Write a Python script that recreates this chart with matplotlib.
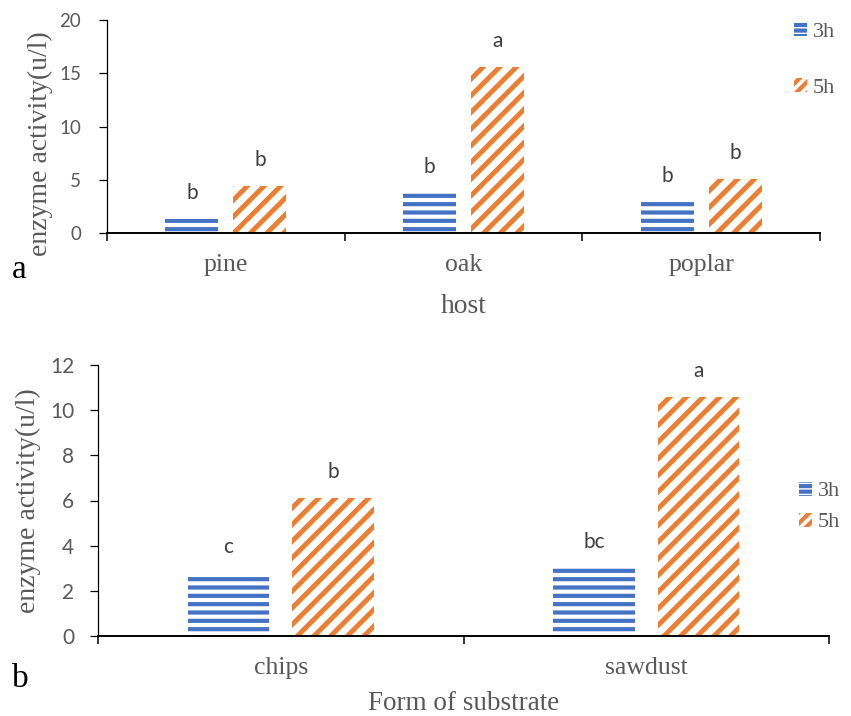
import matplotlib
matplotlib.use("Agg")
import matplotlib.pyplot as plt
from matplotlib.patches import Patch
import numpy as np

# data
hosts = ["pine", "oak", "poplar"]
host_3h = [1.3, 3.8, 2.9]
host_5h = [4.4, 15.6, 5.1]
host_sig_3h = ["b", "b", "b"]
host_sig_5h = ["b", "a", "b"]

forms = ["chips", "sawdust"]
form_3h = [2.8, 3.0]
form_5h = [6.1, 10.6]
form_sig_3h = ["c", "bc"]
form_sig_5h = ["b", "a"]

series_names = ["3h", "5h"]

GREY = "#595959"
BLUE = "#4472C4"
ORANGE = "#ED7D31"
SERIF = "Liberation Serif"
SANS = "Lato"

W, H = 851, 716
fig = plt.figure(figsize=(W / 100, H / 100), dpi=100)


def px_axes(left, top, right, bottom):
    return fig.add_axes([left / W, 1 - bottom / H, (right - left) / W, (bottom - top) / H])


def set_hlw(patches, lw):
    for p in patches:
        if hasattr(p, "set_hatch_linewidth"):
            p.set_hatch_linewidth(lw)


def draw_panel(ax, cats, v3, v5, s3, s5, ymax, ystep, tick_fs, tick_pad):
    x = np.arange(len(cats))
    b3 = ax.bar(x - 0.143, v3, 0.223, facecolor="white", edgecolor=BLUE,
                linewidth=0, hatch="--")
    b5 = ax.bar(x + 0.143, v5, 0.223, facecolor="white", edgecolor=ORANGE,
                linewidth=0, hatch="//")
    set_hlw(b3, 3.0)
    set_hlw(b5, 3.5)

    for bars, sig in ((b3, s3), (b5, s5)):
        for p, s in zip(bars, sig):
            ax.annotate(s, (p.get_x() + p.get_width() / 2, p.get_height()),
                        xytext=(0, 14.4), textcoords="offset points",
                        ha="center", va="baseline", fontsize=15,
                        family=SANS, color="#404040")

    ax.set_xlim(-0.5, len(cats) - 0.5)
    ax.set_ylim(0, ymax)
    ax.set_yticks(np.arange(0, ymax + 0.1, ystep))
    ax.set_xticks(np.arange(len(cats) + 1) - 0.5)
    ax.set_xticklabels([])
    ax.set_xticks(x, minor=True)
    ax.set_xticklabels(cats, minor=True, family=SERIF, fontsize=18.5, color=GREY)
    ax.tick_params(axis="x", which="minor", length=0, pad=15)
    ax.tick_params(axis="x", which="major", length=5.5, width=1.1, color="black")
    ax.tick_params(axis="y", length=5.5, width=0.9, pad=tick_pad,
                   labelsize=tick_fs, labelcolor=GREY)
    for lab in ax.get_yticklabels():
        lab.set_family(SANS)

    for side in ("top", "right"):
        ax.spines[side].set_visible(False)
    ax.spines["bottom"].set_linewidth(1.4)
    ax.spines["left"].set_linewidth(0.9)


def add_legend(ax, x_px, y_px, spacing):
    h3 = Patch(facecolor="white", edgecolor=BLUE, linewidth=0, hatch="---")
    h5 = Patch(facecolor="white", edgecolor=ORANGE, linewidth=0, hatch="///")
    leg = ax.legend([h3, h5], series_names, loc="center left",
                    bbox_to_anchor=(x_px / W, 1 - y_px / H),
                    bbox_transform=fig.transFigure, frameon=False,
                    prop={"family": SERIF, "size": 16}, labelcolor=GREY,
                    handlelength=0.6, handleheight=0.6, handletextpad=0.25,
                    labelspacing=spacing, borderpad=0, borderaxespad=0)
    set_hlw(leg.legend_handles, 3.0)


# panel a: host
ax1 = px_axes(107, 20, 820, 233)
draw_panel(ax1, hosts, host_3h, host_5h, host_sig_3h, host_sig_5h, 20, 5, 13.5, 13)
ax1.set_ylabel("enzyme activity(u/l)", family=SERIF, fontsize=20, color=GREY)
ax1.yaxis.label.set_va("center")
ax1.yaxis.set_label_coords(-0.094, 0.418)
ax1.set_xlabel("host", family=SERIF, fontsize=20, color=GREY)
ax1.xaxis.set_label_coords(0.5, -0.286)
add_legend(ax1, 794, 60, 1.6)

# panel b: form of substrate
ax2 = px_axes(98, 365, 829, 636)
draw_panel(ax2, forms, form_3h, form_5h, form_sig_3h, form_sig_5h, 12, 2, 15, 11.5)
ax2.set_ylabel("enzyme activity(u/l)", family=SERIF, fontsize=20, color=GREY)
ax2.yaxis.label.set_va("center")
ax2.yaxis.set_label_coords(-0.0958, 0.498)
ax2.set_xlabel("Form of substrate", family=SERIF, fontsize=19.5, color=GREY)
ax2.xaxis.set_label_coords(0.5, -0.202)
add_legend(ax2, 799, 507, 0.5)

# panel letters
fig.text(12 / W, 1 - 278 / H, "a", family=SERIF, fontsize=24, color="black",
         ha="left", va="baseline")
fig.text(12 / W, 1 - 687 / H, "b", family=SERIF, fontsize=24, color="black",
         ha="left", va="baseline")

fig.savefig("out.png", dpi=100)
